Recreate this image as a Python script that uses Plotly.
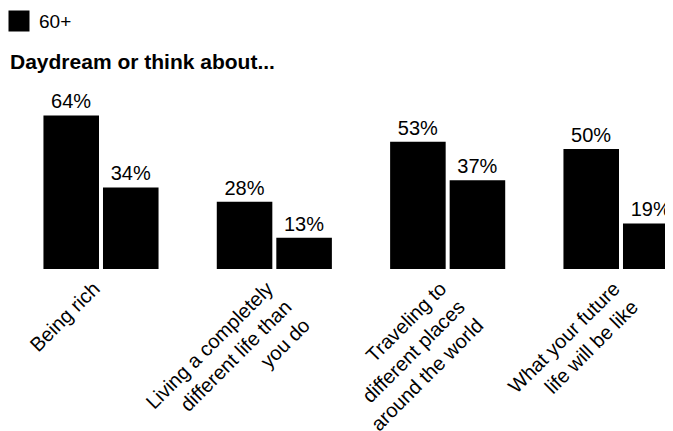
import plotly.graph_objects as go

categories = [
    "Being rich",
    "Living a completely<br>different life than<br>you do",
    "Traveling to<br>different places<br>around the world",
    "What your future<br>life will be like",
]
series_a_name = "Younger"
series_a = [64, 28, 53, 50]
series_b_name = "60+"
series_b = [34, 13, 37, 19]
title_text = "<b>Daydream or think about...</b>"

FONT = "Liberation Sans, Arial, Helvetica, sans-serif"
x_idx = list(range(len(categories)))

fig = go.Figure()
fig.add_trace(go.Bar(
    x=x_idx, y=series_a, name=series_a_name, showlegend=False,
    marker=dict(color="#000000", line=dict(width=0)),
    text=[f"{v}%" for v in series_a], textposition="outside",
    textfont=dict(family=FONT, size=20, color="#000000"), cliponaxis=False,
))
fig.add_trace(go.Bar(
    x=x_idx, y=series_b, name=series_b_name, showlegend=False,
    marker=dict(color="#000000", line=dict(width=0)),
    text=[f"{v}%" for v in series_b], textposition="outside",
    textfont=dict(family=FONT, size=20, color="#000000"), cliponaxis=False,
))
# legend key for the 60+ series
fig.add_trace(go.Scatter(
    x=[None], y=[None], mode="markers", name=series_b_name, showlegend=True,
    marker=dict(symbol="square", size=16, color="#000000",
                line=dict(color="#000000", width=5)),
))

W, H = 665, 423
fig.update_layout(
    width=W, height=H,
    margin=dict(l=0, r=0, t=93, b=162, autoexpand=False),
    paper_bgcolor="white", plot_bgcolor="white",
    barmode="group", bargap=0.313, bargroupgap=0.067,
    font=dict(family=FONT, size=20, color="#000000"),
    title=dict(text=title_text, x=2 / W, xanchor="left", xref="container",
               y=1 - 54 / H, yanchor="middle", yref="container",
               font=dict(family=FONT, size=21, color="#000000")),
    legend=dict(x=-9 / W, xanchor="left", y=1.476, yanchor="middle",
                font=dict(family=FONT, size=19, color="#000000"),
                bgcolor="rgba(0,0,0,0)"),
    showlegend=True,
)
fig.update_xaxes(
    tickmode="array", tickvals=x_idx, ticktext=categories,
    tickangle=-45, range=[-0.5365, 3.300], automargin=False,
    showgrid=False, zeroline=False, showline=False, ticks="",
    ticklabelshift=-7, ticklabelstandoff=3,
    tickfont=dict(family=FONT, size=20, color="#000000"),
)
fig.update_yaxes(range=[0, 70], visible=False, showgrid=False, zeroline=False,
                 automargin=False)

fig.write_html("out.html")
